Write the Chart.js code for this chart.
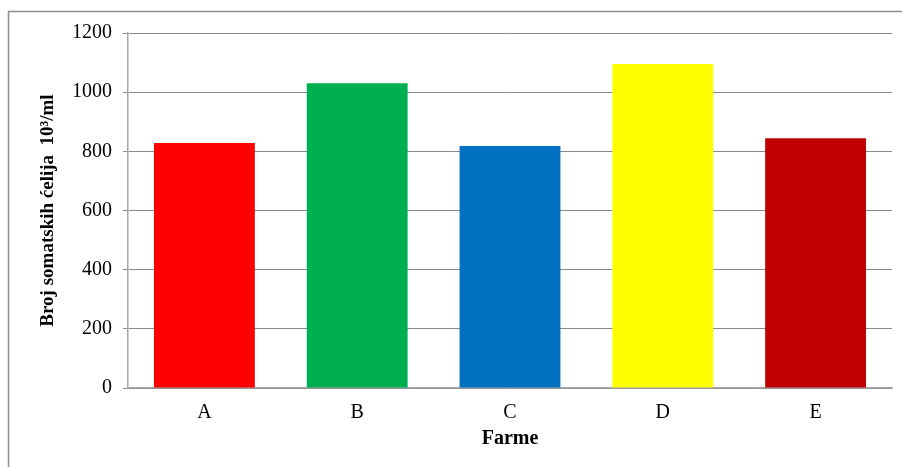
<!DOCTYPE html>
<html>
<head>
<meta charset="utf-8">
<script src="https://cdn.jsdelivr.net/npm/chart.js@4"></script>
<style>
  html, body { margin: 0; padding: 0; background: #fff; }
  #wrap { width: 902px; height: 467px; }
</style>
</head>
<body>
<div id="wrap"><canvas id="barChart" width="902" height="467"></canvas></div>
<script>
// data
const farms = ['A', 'B', 'C', 'D', 'E'];
const cellCounts = [828, 1030, 818, 1095, 844];
const barColors = ['#ff0000', '#00b050', '#0070c0', '#ffff00', '#c00000'];
const yTicks = [0, 200, 400, 600, 800, 1000, 1200];

// outer frame like the Excel chart border
const framePlugin = {
  id: 'frame',
  afterDraw(chart) {
    const ctx = chart.ctx;
    ctx.save();
    ctx.strokeStyle = '#8c8c8c';
    ctx.lineWidth = 1.5;
    ctx.beginPath();
    ctx.moveTo(8.5, 470);
    ctx.lineTo(8.5, 11.5);
    ctx.lineTo(905, 11.5);
    ctx.stroke();
    ctx.restore();
  }
};

const serif = "'Liberation Serif', 'DejaVu Serif', serif";

const barChart = new Chart(document.getElementById('barChart').getContext('2d'), {
  type: 'bar',
  data: {
    labels: farms,
    datasets: [{
      data: cellCounts,
      backgroundColor: barColors,
      categoryPercentage: 0.66,
      barPercentage: 1
    }]
  },
  options: {
    responsive: false,
    animation: false,
    layout: { padding: { left: 0, right: 10, top: 33, bottom: 0 } },
    plugins: { legend: { display: false }, tooltip: { enabled: false } },
    scales: {
      x: {
        afterFit: s => { s.height = 79; },
        grid: { display: false, drawTicks: false },
        border: { color: '#a6a6a6', width: 1.5 },
        ticks: { color: '#000', font: { family: serif, size: 20 }, padding: 13 },
        title: {
          display: true, text: 'Farme', color: '#000',
          font: { family: serif, size: 20, weight: 'bold' },
          padding: { top: 0, bottom: 16 }
        }
      },
      y: {
        min: 0, max: 1200,
        afterFit: s => { s.width = 128; },
        afterBuildTicks: s => { s.ticks = yTicks.map(v => ({ value: v })); },
        grid: { color: '#8a8a8a', lineWidth: 1, tickLength: 5 },
        border: { color: '#a6a6a6', width: 1.5 },
        ticks: {
          color: '#000', font: { family: serif, size: 20 }, padding: 11,
          callback: v => String(v)
        },
        title: {
          display: true, text: 'Broj somatskih ćelija  10³/ml', color: '#000',
          font: { family: serif, size: 19, weight: 'bold' },
          padding: { top: 37, bottom: 0 }
        }
      }
    }
  },
  plugins: [framePlugin]
});
</script>
</body>
</html>
